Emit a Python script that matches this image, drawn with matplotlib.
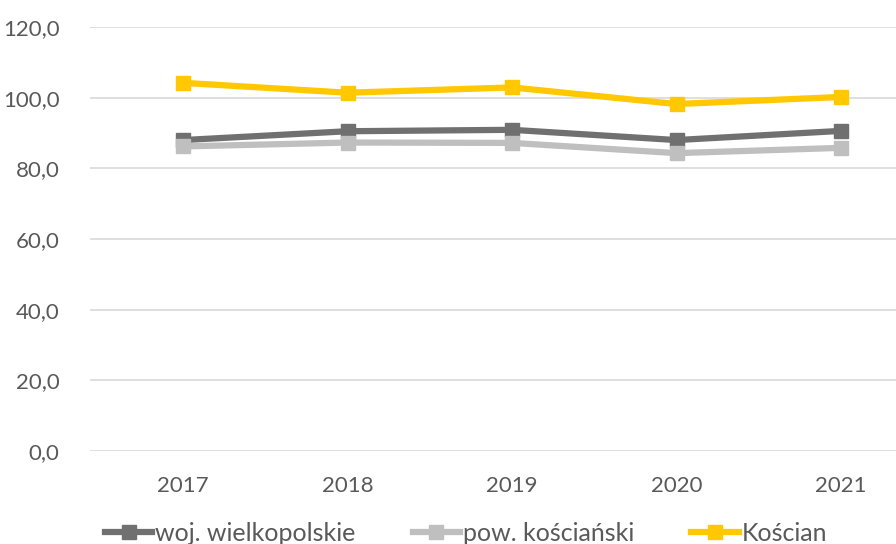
import matplotlib
matplotlib.use("Agg")
import matplotlib.pyplot as plt
from matplotlib.ticker import FuncFormatter
from matplotlib.lines import Line2D

years = ["2017", "2018", "2019", "2020", "2021"]
woj = [88.0, 90.5, 90.9, 88.0, 90.6]
pow_ = [86.2, 87.3, 87.2, 84.3, 85.8]
koscian = [104.2, 101.4, 102.9, 98.2, 100.2]
series_names = ["woj. wielkopolskie", "pow. kościański", "Kościan"]
colors = ["#707070", "#BFBFBF", "#FFC800"]

plt.rcParams['font.family'] = ['Lato', 'DejaVu Sans']

fig = plt.figure(figsize=(8.96, 5.44), dpi=100)
ax = fig.add_axes([90/896, 1-451/544, 1-90/896, (451-27)/544])

x = list(range(len(years)))
for vals, c, name in zip([woj, pow_, koscian], colors, series_names):
    ax.plot(x, vals, color=c, lw=4.5, marker='s', markersize=10, label=name,
            solid_capstyle='round', zorder=3)

ax.set_ylim(0, 120)
ax.set_yticks(range(0, 121, 20))
ax.yaxis.set_major_formatter(FuncFormatter(lambda v, p: f"{v:.1f}".replace('.', ',')))
ax.set_xticks(x)
ax.set_xticklabels(years)
ax.set_xlim((90-183)/164.5, (896-183)/164.5)
ax.grid(axis='y', color='#D9D9D9', lw=1.2)
ax.set_axisbelow(True)
for s in ax.spines.values():
    s.set_visible(False)
ax.tick_params(axis='both', length=0, labelsize=16, colors='#595959')
ax.tick_params(axis='y', pad=22)
ax.tick_params(axis='x', pad=18)

handles = [Line2D([], [], color=c, lw=4.5, marker='s', markersize=10) for c in colors]
fig.legend(handles, series_names, loc='center', bbox_to_anchor=(0.52, 0.02),
           ncol=3, frameon=False, fontsize=18, labelcolor='#595959',
           handlelength=1.9, handletextpad=0.1, columnspacing=2.3)

fig.savefig("out.png", dpi=100)
